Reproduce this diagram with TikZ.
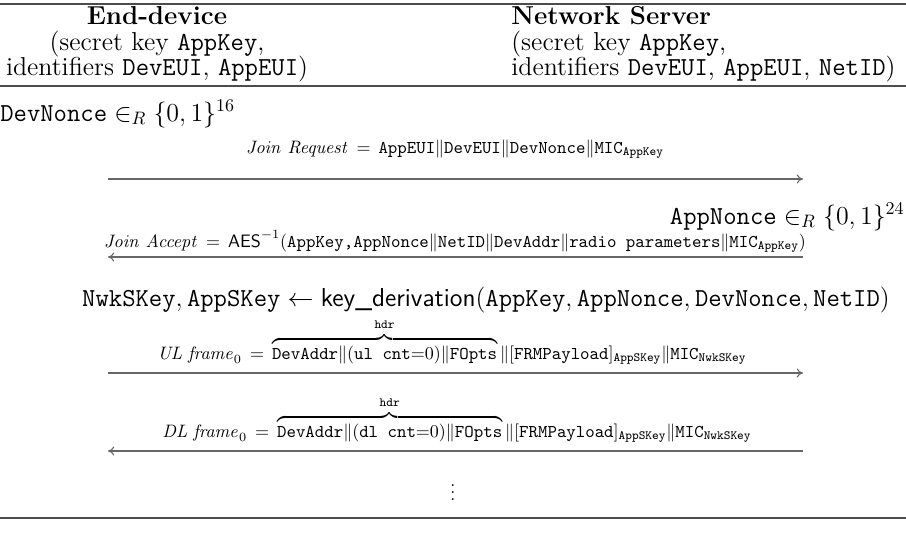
\documentclass[tikz,border=0pt]{standalone}
\usepackage{amsmath}
\usepackage{amssymb}
\usetikzlibrary{arrows.meta}

\begin{document}
\begin{tikzpicture}[x=0.5556pt, y=-0.5556pt,
    rule/.style={draw=black!70, line width=0.9pt},
    msg/.style={draw=black!60, line width=0.6pt, -{To[length=3.5pt,width=5pt]}},
    txt/.style={inner sep=0pt, anchor=base},
    head/.style={txt, font=\Large}]
  \useasboundingbox (0,0) rectangle (906,550);
  % header of the two parties
  \coordinate (topL) at (0,4);
  \coordinate (topR) at (906,4);
  \coordinate (midL) at (0,86);
  \coordinate (midR) at (906,86);
  \coordinate (botL) at (0,518);
  \coordinate (botR) at (906,518);
  \draw[rule] (topL) -- (topR);
  \draw[rule] (midL) -- (midR);
  \draw[rule] (botL) -- (botR);
  \node[head] (ed) at (157,25) {\textbf{End-device}};
  \node[head] (edkey) at (157,50) {(secret key \texttt{AppKey},};
  \node[head] (edid) at (157,75) {identifiers \texttt{DevEUI}, \texttt{AppEUI})};
  \node[head, anchor=base west] (ns) at (511,25) {\textbf{Network Server}};
  \node[head, anchor=base west] (nskey) at (511,50) {(secret key \texttt{AppKey},};
  \node[head, anchor=base west] (nsid) at (511,75) {identifiers \texttt{DevEUI}, \texttt{AppEUI}, \texttt{NetID})};
  % join procedure
  \node[head, anchor=base west] (devnonce) at (0,121) {$\texttt{DevNonce}\in_R\{0,1\}^{16}$};
  \coordinate (ed1) at (108,179);
  \coordinate (ns1) at (803,179);
  \draw[msg] (ed1) -- (ns1);
  \node[txt] (joinreq) at (455,153) {$\mathit{Join\ Request}\,=\,\texttt{AppEUI}\|\texttt{DevEUI}\|\texttt{DevNonce}\|\texttt{MIC}_{\mathtt{AppKey}}$};
  \node[head, anchor=base east] (appnonce) at (905,224) {$\texttt{AppNonce}\in_R\{0,1\}^{24}$};
  \coordinate (ns2) at (803,257);
  \coordinate (ed2) at (108,257);
  \draw[msg] (ns2) -- (ed2);
  \node[txt] (joinacc) at (455,247) {$\mathit{Join\ Accept}\,=\,\mathsf{AES}^{-1}(\texttt{AppKey,AppNonce}\|\texttt{NetID}\|\texttt{DevAddr}\|\texttt{radio parameters}\|\texttt{MIC}_{\mathtt{AppKey}})$};
  \node[head] (keys) at (486,306) {$\texttt{NwkSKey},\texttt{AppSKey}\leftarrow\textsf{key\_derivation}(\texttt{AppKey},\texttt{AppNonce},\texttt{DevNonce},\texttt{NetID})$};
  % data frames
  \coordinate (ed3) at (108,373);
  \coordinate (ns3) at (803,373);
  \draw[msg] (ed3) -- (ns3);
  \node[txt] (ulframe) at (452,359) {$\mathit{UL\ frame}_0\,=\,\overbrace{\texttt{DevAddr}\|(\texttt{ul cnt}{=}0)\|\texttt{FOpts}}^{\mathtt{hdr}}\|[\texttt{FRMPayload}]_{\mathtt{AppSKey}}\|\texttt{MIC}_{\mathtt{NwkSKey}}$};
  \coordinate (ns4) at (803,451);
  \coordinate (ed4) at (108,451);
  \draw[msg] (ns4) -- (ed4);
  \node[txt] (dlframe) at (457,437) {$\mathit{DL\ frame}_0\,=\,\overbrace{\texttt{DevAddr}\|(\texttt{dl cnt}{=}0)\|\texttt{FOpts}}^{\mathtt{hdr}}\|[\texttt{FRMPayload}]_{\mathtt{AppSKey}}\|\texttt{MIC}_{\mathtt{NwkSKey}}$};
  \node (dots) at (453,487) {$\vdots$};
\end{tikzpicture}
\end{document}
